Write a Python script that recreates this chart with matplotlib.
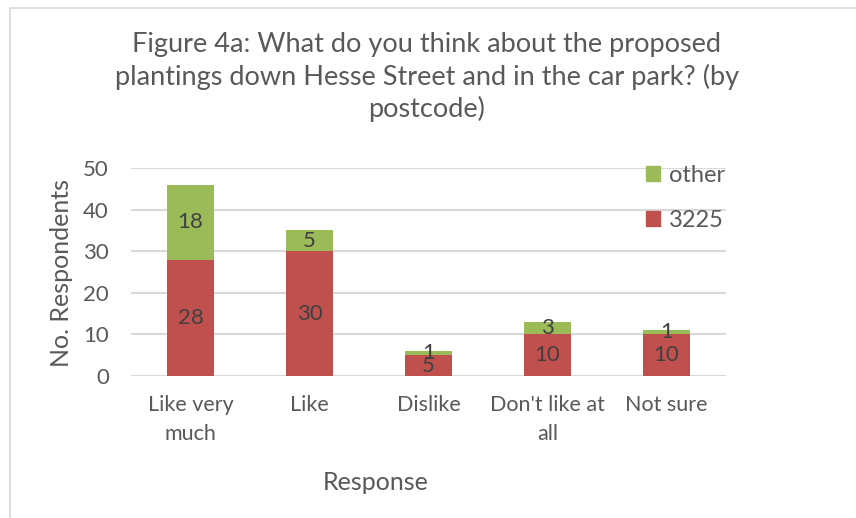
import matplotlib
matplotlib.use("Agg")
import matplotlib.pyplot as plt
from matplotlib.patches import Rectangle, Patch

plt.rcParams['font.family'] = ['Lato', 'DejaVu Sans']

categories = ["Like very\nmuch", "Like", "Dislike", "Don't like at\nall", "Not sure"]
postcode_3225 = [28, 30, 5, 10, 10]
other = [18, 5, 1, 3, 1]
y_ticks = [0, 10, 20, 30, 40, 50]

RED = "#C0504D"
GREEN = "#9BBB59"
GRID = "#D9D9D9"
TEXT = "#595959"
LABEL = "#404040"

W, H = 856, 518
fig = plt.figure(figsize=(W / 100, H / 100), dpi=100)

# outer chart frame
fig.patches.append(Rectangle((10 / W, -0.1), 1.2, (H - 8) / H + 0.1,
                             transform=fig.transFigure, fill=False,
                             edgecolor="#D9D9D9", linewidth=1.2))

ax = fig.add_axes([131 / W, 1 - 376 / H, (726 - 131) / W, (376 - 168) / H])
x = list(range(len(categories)))
b1 = ax.bar(x, postcode_3225, width=0.4, color=RED, label="3225", zorder=3)
b2 = ax.bar(x, other, width=0.4, bottom=postcode_3225, color=GREEN, label="other", zorder=3)
ax.bar_label(b1, label_type="center", fontsize=16, color=LABEL)
ax.bar_label(b2, label_type="center", fontsize=16, color=LABEL)

ax.set_xlim(-0.5, len(categories) - 0.5)
ax.set_ylim(0, 50)
ax.set_yticks(y_ticks)
ax.set_xticks(x)
ax.set_xticklabels(categories, fontsize=15.5, color=TEXT, linespacing=1.55)
ax.tick_params(axis="y", labelsize=16, colors=TEXT, length=0, pad=16)
ax.tick_params(axis="x", length=0, pad=14)
ax.grid(axis="y", color=GRID, linewidth=1.5, zorder=0)
for s in ax.spines.values():
    s.set_visible(False)

fig.text(62 / W, 1 - 273 / H, "No. Respondents", rotation=90, ha="center", va="center",
         fontsize=18, color=TEXT)
fig.text(376 / W, 1 - 482 / H, "Response", ha="center", va="center", fontsize=18, color=TEXT)
fig.text(427 / W, 1 - 77 / H,
         "Figure 4a: What do you think about the proposed\nplantings down Hesse Street and in the car park? (by\npostcode)",
         ha="center", va="center", fontsize=19.5, color=TEXT, linespacing=1.3)

handles = [Patch(color=GREEN), Patch(color=RED)]
fig.legend(handles, ["other", "3225"], loc="upper left",
           bbox_to_anchor=(625 / W, 1 - 144 / H), frameon=False, fontsize=17,
           labelcolor=TEXT, handlelength=0.6, handleheight=0.6, handletextpad=0.35,
           labelspacing=1.0)

fig.savefig("out.png", dpi=100, facecolor="white")
